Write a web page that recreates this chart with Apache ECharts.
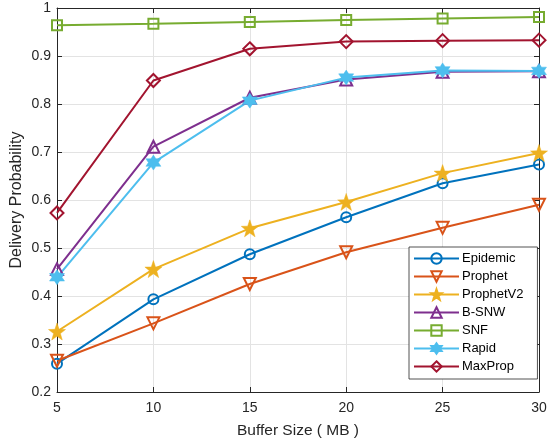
<!DOCTYPE html>
<html><head><meta charset="utf-8">
<script src="https://cdn.jsdelivr.net/npm/echarts@6/dist/echarts.min.js"></script>
<style>html,body{margin:0;padding:0;background:#fff}#c{width:549px;height:445px}</style>
</head><body><div id="c"></div>
<script>
const bufferSizes = [5, 10, 15, 20, 25, 30];
const epidemic  = [0.259, 0.393, 0.487, 0.564, 0.635, 0.674];
const prophet   = [0.265, 0.343, 0.425, 0.491, 0.542, 0.590];
const prophetV2 = [0.326, 0.456, 0.541, 0.596, 0.656, 0.698];
const bsnw      = [0.456, 0.711, 0.813, 0.851, 0.867, 0.868];
const snf       = [0.964, 0.967, 0.971, 0.975, 0.978, 0.981];
const rapid     = [0.439, 0.678, 0.807, 0.855, 0.870, 0.869];
const maxprop   = [0.573, 0.849, 0.915, 0.930, 0.932, 0.933];
const xTicks = [5, 10, 15, 20, 25, 30];
const yTicks = [0.2, 0.3, 0.4, 0.5, 0.6, 0.7, 0.8, 0.9, 1];

const STAR = 'path://M0,-10 L2.35,-3.24 L9.51,-3.09 L3.8,1.24 L5.88,8.09 L0,4 L-5.88,8.09 L-3.8,1.24 L-9.51,-3.09 L-2.35,-3.24 Z';
const HEX = 'path://M0,-10 L2.885,-5 L8.66,-5 L5.77,0 L8.66,5 L2.885,5 L0,10 L-2.885,5 L-8.66,5 L-5.77,0 L-8.66,-5 L-2.885,-5 Z';

const defs = [
  {name:'Epidemic', data:epidemic, color:'#0072BD', symbol:'circle', size:10, fill:false},
  {name:'Prophet', data:prophet, color:'#D95319', symbol:'triangle', rotate:180, size:12, fill:false},
  {name:'ProphetV2', data:prophetV2, color:'#EDB120', symbol:STAR, size:17, fill:true},
  {name:'B-SNW', data:bsnw, color:'#7E2F8E', symbol:'triangle', size:12, fill:false},
  {name:'SNF', data:snf, color:'#77AC30', symbol:'rect', size:10, fill:false},
  {name:'Rapid', data:rapid, color:'#4DBEEE', symbol:HEX, size:15, fill:true},
  {name:'MaxProp', data:maxprop, color:'#A2142F', symbol:'diamond', size:13, fill:false}
];

const FONT = 'Liberation Sans, Arial, sans-serif';
const AX = '#262626';

const series = defs.map(d => ({
  name: d.name,
  type: 'line',
  data: bufferSizes.map((x, i) => [x, d.data[i]]),
  symbol: d.symbol,
  symbolSize: d.size,
  symbolRotate: d.rotate || 0,
  showAllSymbol: true,
  lineStyle: {color: d.color, width: 2},
  itemStyle: {color: d.fill ? d.color : '#ffffff00', borderColor: d.color, borderWidth: d.fill ? 0.5 : 2},
  emphasis: {disabled: true},
  animation: false,
  z: 3
}));

const chart = echarts.init(document.getElementById('c'), null, {renderer: 'canvas'});
chart.setOption({
  backgroundColor: '#fff',
  animation: false,
  grid: {left: 57, right: 10, top: 8, bottom: 53, containLabel: false, outerBoundsMode: 'none'},
  legend: {
    orient: 'vertical',
    left: 409, top: 247,
    data: defs.map(d => d.name),
    backgroundColor: '#fff',
    borderColor: AX, borderWidth: 0.8,
    padding: [5, 14, 6, 4],
    itemGap: 5,
    itemWidth: 45, itemHeight: 13,
    textStyle: {fontFamily: FONT, fontSize: 13, color: '#000', padding: [0, 0, 0, -2]},
    selectedMode: false
  },
  xAxis: [{
    type: 'value', min: 5, max: 30, interval: 5, position: 'bottom',
    name: 'Buffer Size ( MB )', nameLocation: 'middle', nameGap: 31, nameMoveOverlap: false,
    nameTextStyle: {fontFamily: FONT, fontSize: 15.5, color: AX},
    axisLine: {show: true, onZero: false, lineStyle: {color: AX, width: 1}},
    axisTick: {show: true, inside: true, length: 5, lineStyle: {color: AX}},
    axisLabel: {fontFamily: FONT, fontSize: 14, color: AX, margin: 9,
      formatter: v => xTicks.includes(v) ? String(v) : ''},
    splitLine: {show: true, lineStyle: {color: '#e3e3e3', width: 1}}
  }, {
    type: 'value', min: 5, max: 30, interval: 5, position: 'top',
    axisLine: {show: true, onZero: false, lineStyle: {color: AX, width: 1}},
    axisTick: {show: true, inside: true, length: 5, lineStyle: {color: AX}},
    axisLabel: {show: false}, splitLine: {show: false}
  }],
  yAxis: [{
    type: 'value', min: 0.2, max: 1, interval: 0.1, position: 'left',
    name: 'Delivery Probability', nameLocation: 'middle', nameGap: 32, nameMoveOverlap: false,
    nameTextStyle: {fontFamily: FONT, fontSize: 16, color: AX},
    axisLine: {show: true, onZero: false, lineStyle: {color: AX, width: 1}},
    axisTick: {show: true, inside: true, length: 5, lineStyle: {color: AX}},
    axisLabel: {fontFamily: FONT, fontSize: 14, color: AX, margin: 6,
      formatter: v => { const t = yTicks.find(y => Math.abs(y - v) < 1e-9); return t === undefined ? '' : String(t); }},
    splitLine: {show: true, lineStyle: {color: '#e3e3e3', width: 1}}
  }, {
    type: 'value', min: 0.2, max: 1, interval: 0.1, position: 'right',
    axisLine: {show: true, onZero: false, lineStyle: {color: AX, width: 1}},
    axisTick: {show: true, inside: true, length: 5, lineStyle: {color: AX}},
    axisLabel: {show: false}, splitLine: {show: false}
  }],
  series: series
});
</script></body></html>
